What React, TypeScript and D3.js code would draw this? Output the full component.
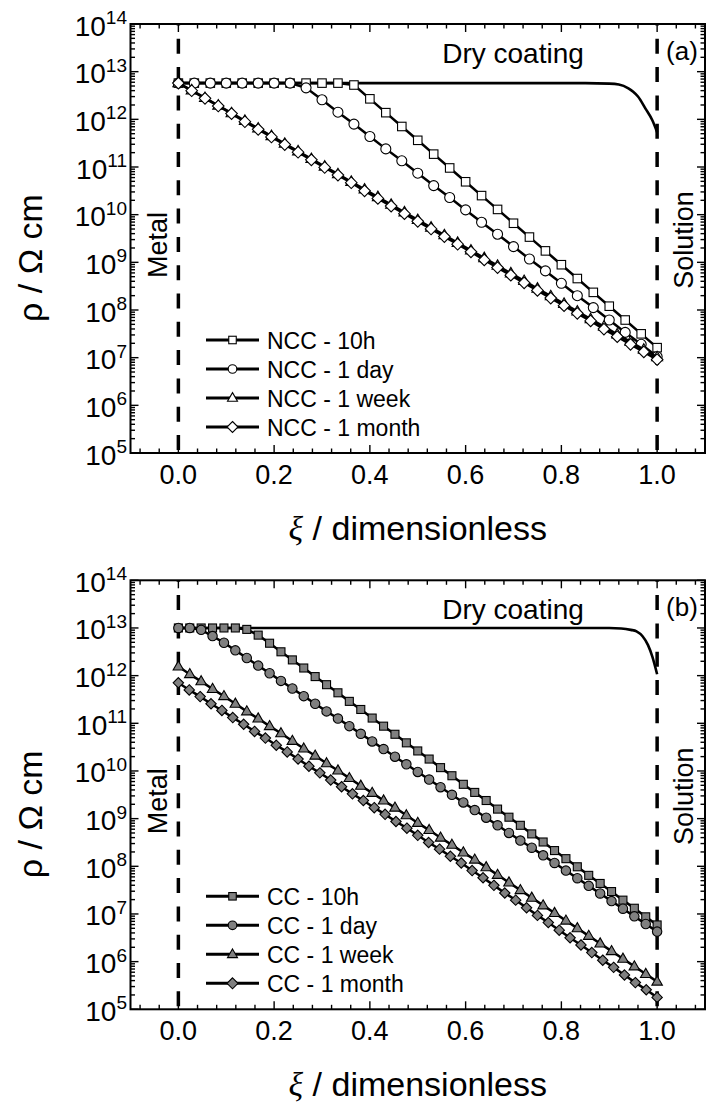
import React from 'react';
import * as d3 from 'd3';

const FONT = "'Liberation Sans', Arial, Helvetica, sans-serif";

// ---------- data (log10 of resistivity, Ω cm) ----------
const X30 = [0, 0.0333, 0.0667, 0.1, 0.1333, 0.1667, 0.2, 0.2333, 0.2667, 0.3, 0.3333, 0.3667, 0.4, 0.4333, 0.4667, 0.5, 0.5333, 0.5667, 0.6, 0.6333, 0.6667, 0.7, 0.7333, 0.7667, 0.8, 0.8333, 0.8667, 0.9, 0.9333, 0.9667, 1];
const X36 = [0, 0.0278, 0.0556, 0.0833, 0.1111, 0.1389, 0.1667, 0.1944, 0.2222, 0.25, 0.2778, 0.3056, 0.3333, 0.3611, 0.3889, 0.4167, 0.4444, 0.4722, 0.5, 0.5278, 0.5556, 0.5833, 0.6111, 0.6389, 0.6667, 0.6944, 0.7222, 0.75, 0.7778, 0.8056, 0.8333, 0.8611, 0.8889, 0.9167, 0.9444, 0.9722, 1];
const X42 = [0, 0.0238, 0.0476, 0.0714, 0.0952, 0.119, 0.1429, 0.1667, 0.1905, 0.2143, 0.2381, 0.2619, 0.2857, 0.3095, 0.3333, 0.3571, 0.381, 0.4048, 0.4286, 0.4524, 0.4762, 0.5, 0.5238, 0.5476, 0.5714, 0.5952, 0.619, 0.6429, 0.6667, 0.6905, 0.7143, 0.7381, 0.7619, 0.7857, 0.8095, 0.8333, 0.8571, 0.881, 0.9048, 0.9286, 0.9524, 0.9762, 1];
const X44 = [0, 0.0227, 0.0455, 0.0682, 0.0909, 0.1136, 0.1364, 0.1591, 0.1818, 0.2045, 0.2273, 0.25, 0.2727, 0.2955, 0.3182, 0.3409, 0.3636, 0.3864, 0.4091, 0.4318, 0.4545, 0.4773, 0.5, 0.5227, 0.5455, 0.5682, 0.5909, 0.6136, 0.6364, 0.6591, 0.6818, 0.7045, 0.7273, 0.75, 0.7727, 0.7955, 0.8182, 0.8409, 0.8636, 0.8864, 0.9091, 0.9318, 0.9545, 0.9773, 1];

// Panel (a): non-conductive coating
const DRY_A_X = [0, 0.85, 0.9, 0.92, 0.94, 0.95, 0.96, 0.976, 0.99, 1];
const DRY_A = [12.76, 12.76, 12.75, 12.73, 12.65, 12.58, 12.48, 12.22, 11.98, 11.73];
const NCC_10H = [12.76, 12.76, 12.76, 12.76, 12.76, 12.76, 12.76, 12.76, 12.76, 12.76, 12.76, 12.72, 12.43, 12.14, 11.85, 11.56, 11.27, 10.98, 10.69, 10.40, 10.11, 9.82, 9.53, 9.24, 8.95, 8.66, 8.37, 8.08, 7.79, 7.50, 7.21];
const NCC_1DAY = [12.76, 12.76, 12.76, 12.76, 12.76, 12.76, 12.76, 12.76, 12.66, 12.41, 12.15, 11.90, 11.64, 11.38, 11.13, 10.87, 10.61, 10.36, 10.10, 9.84, 9.59, 9.33, 9.07, 8.82, 8.56, 8.30, 8.05, 7.79, 7.53, 7.28, 7.02];
const NCC_1WEEK = [12.76, 12.61, 12.45, 12.29, 12.13, 11.97, 11.81, 11.65, 11.49, 11.33, 11.17, 11.01, 10.85, 10.69, 10.53, 10.37, 10.21, 10.05, 9.89, 9.73, 9.57, 9.41, 9.25, 9.09, 8.93, 8.77, 8.61, 8.45, 8.29, 8.13, 7.97, 7.81, 7.65, 7.49, 7.33, 7.17, 7.01];
const NCC_1MONTH = [12.76, 12.60, 12.44, 12.28, 12.12, 11.95, 11.79, 11.63, 11.47, 11.31, 11.15, 10.99, 10.83, 10.67, 10.50, 10.34, 10.18, 10.02, 9.86, 9.70, 9.54, 9.38, 9.22, 9.05, 8.89, 8.73, 8.57, 8.41, 8.25, 8.09, 7.93, 7.77, 7.60, 7.44, 7.28, 7.12, 6.96];

// Panel (b): conductive coating
const DRY_B_X = [0, 0.9, 0.925, 0.945, 0.957, 0.97, 0.981, 0.99, 1];
const DRY_B = [13.0, 13.0, 12.99, 12.96, 12.93, 12.82, 12.64, 12.4, 12.03];
const CC_10H = [13.0, 13.0, 13.0, 13.0, 13.0, 13.0, 12.97, 12.85, 12.68, 12.50, 12.33, 12.16, 11.98, 11.81, 11.64, 11.46, 11.29, 11.11, 10.94, 10.77, 10.59, 10.42, 10.25, 10.07, 9.90, 9.72, 9.55, 9.38, 9.20, 9.03, 8.86, 8.68, 8.51, 8.33, 8.16, 7.99, 7.81, 7.64, 7.47, 7.29, 7.12, 6.94, 6.77];
const CC_1DAY = [13.0, 13.0, 12.96, 12.83, 12.69, 12.53, 12.37, 12.21, 12.05, 11.89, 11.73, 11.57, 11.41, 11.25, 11.10, 10.94, 10.78, 10.62, 10.46, 10.30, 10.14, 9.98, 9.82, 9.66, 9.50, 9.34, 9.18, 9.02, 8.86, 8.70, 8.54, 8.39, 8.23, 8.07, 7.91, 7.75, 7.59, 7.43, 7.27, 7.11, 6.95, 6.79, 6.63];
const CC_1WEEK = [12.19, 12.03, 11.88, 11.72, 11.57, 11.41, 11.25, 11.10, 10.94, 10.79, 10.63, 10.47, 10.32, 10.16, 10.01, 9.85, 9.69, 9.54, 9.38, 9.23, 9.07, 8.91, 8.76, 8.60, 8.45, 8.29, 8.14, 7.98, 7.82, 7.66, 7.50, 7.34, 7.18, 7.02, 6.86, 6.70, 6.54, 6.38, 6.22, 6.06, 5.90, 5.74, 5.58];
const CC_1MONTH = [11.85, 11.70, 11.56, 11.41, 11.27, 11.12, 10.98, 10.83, 10.69, 10.54, 10.40, 10.25, 10.10, 9.96, 9.81, 9.67, 9.52, 9.38, 9.23, 9.09, 8.94, 8.80, 8.65, 8.50, 8.36, 8.21, 8.07, 7.91, 7.76, 7.60, 7.44, 7.29, 7.13, 6.97, 6.82, 6.66, 6.50, 6.35, 6.19, 6.03, 5.88, 5.72, 5.56, 5.41, 5.25];

const X_MAJOR = [0, 0.2, 0.4, 0.6, 0.8, 1.0];
const X_TICK_LABELS = ['0.0', '0.2', '0.4', '0.6', '0.8', '1.0'];
const Y_DECADES = [5, 6, 7, 8, 9, 10, 11, 12, 13, 14];

type Shape = 'square' | 'circle' | 'triangle' | 'diamond';
interface Series { label: string; x: number[]; y: number[]; shape: Shape; }

const SERIES_A: Series[] = [
  { label: 'NCC - 10h', x: X30, y: NCC_10H, shape: 'square' },
  { label: 'NCC - 1 day', x: X30, y: NCC_1DAY, shape: 'circle' },
  { label: 'NCC - 1 week', x: X36, y: NCC_1WEEK, shape: 'triangle' },
  { label: 'NCC - 1 month', x: X36, y: NCC_1MONTH, shape: 'diamond' },
];
const SERIES_B: Series[] = [
  { label: 'CC - 10h', x: X42, y: CC_10H, shape: 'square' },
  { label: 'CC - 1 day', x: X42, y: CC_1DAY, shape: 'circle' },
  { label: 'CC - 1 week', x: X42, y: CC_1WEEK, shape: 'triangle' },
  { label: 'CC - 1 month', x: X44, y: CC_1MONTH, shape: 'diamond' },
];

const SIZES_A: Record<Shape, number> = { square: 8.5, circle: 5, triangle: 11, diamond: 5.8 };
const SIZES_B: Record<Shape, number> = { square: 8, circle: 4.7, triangle: 10.5, diamond: 5.2 };
const SIZES_LEG: Record<Shape, number> = { square: 7.5, circle: 4.3, triangle: 10, diamond: 5.5 };

function Marker({ shape, cx, cy, s, fill }: { shape: Shape; cx: number; cy: number; s: number; fill: string }) {
  const common = { fill, stroke: '#000', strokeWidth: 1.1 };
  if (shape === 'square') return <rect x={cx - s / 2} y={cy - s / 2} width={s} height={s} {...common} />;
  if (shape === 'circle') return <circle cx={cx} cy={cy} r={s} {...common} />;
  if (shape === 'diamond') return <path d={`M${cx},${cy - s}L${cx + s},${cy}L${cx},${cy + s}L${cx - s},${cy}Z`} {...common} />;
  const h = s * 0.866;
  return <path d={`M${cx},${cy - h * 0.62}L${cx + s / 2},${cy + h * 0.38}L${cx - s / 2},${cy + h * 0.38}Z`} {...common} />;
}

interface PanelProps {
  top: number; bottom: number; series: Series[]; dryX: number[]; dryY: number[];
  fill: string; tag: string; sizes: Record<Shape, number>;
}

function Panel({ top, bottom, series, dryX, dryY, fill, tag, sizes }: PanelProps) {
  const left = 130.5, right = 705;
  const x = d3.scaleLinear().domain([-0.1, 1.1]).range([left, right]);
  const y = d3.scaleLog().domain([1e5, 1e14]).range([bottom, top]);
  const yl = (v: number) => y(Math.pow(10, v));
  const line = d3.line<[number, number]>().x(d => x(d[0])).y(d => yl(d[1]));
  const dryLine = d3.line<[number, number]>().x(d => x(d[0])).y(d => yl(d[1])).curve(d3.curveMonotoneX);

  const xMinor = d3.range(-2, 28).map(i => +(i * 0.04).toFixed(2)).filter(v => !X_MAJOR.some(m => Math.abs(m - v) < 1e-6));
  const yMinor: number[] = [];
  Y_DECADES.slice(0, -1).forEach(d => { for (let m = 2; m <= 9; m++) yMinor.push(m * Math.pow(10, d)); });
  const MAJ = 8, MIN = 4.5;
  const tickStyle = { stroke: '#000', strokeWidth: 1.4 };

  const legTop = top + 316;
  const legStep = 29;

  return (
    <g>
      {[0, 1].map(v => (
        <line key={'d' + v} x1={x(v)} x2={x(v)} y1={bottom - 3} y2={top} stroke="#000" strokeWidth={3.5} strokeDasharray="15 13.3" />
      ))}
      <path d={dryLine(dryX.map((v, i) => [v, dryY[i]] as [number, number])) || ''} fill="none" stroke="#000" strokeWidth={2.6} />
      {series.map(s => (
        <g key={s.label}>
          <path d={line(s.x.map((v, i) => [v, s.y[i]] as [number, number])) || ''} fill="none" stroke="#000" strokeWidth={2.5} />
          {s.x.map((v, i) => <Marker key={i} shape={s.shape} cx={x(v)} cy={yl(s.y[i])} s={sizes[s.shape]} fill={fill} />)}
        </g>
      ))}
      {X_MAJOR.map(v => (
        <g key={'xm' + v}>
          <line x1={x(v)} x2={x(v)} y1={bottom} y2={bottom - MAJ} {...tickStyle} />
          <line x1={x(v)} x2={x(v)} y1={top} y2={top + MAJ} {...tickStyle} />
        </g>
      ))}
      {xMinor.map(v => (
        <g key={'xn' + v}>
          <line x1={x(v)} x2={x(v)} y1={bottom} y2={bottom - MIN} {...tickStyle} />
          <line x1={x(v)} x2={x(v)} y1={top} y2={top + MIN} {...tickStyle} />
        </g>
      ))}
      {Y_DECADES.map(d => (
        <g key={'ym' + d}>
          <line x1={left} x2={left + MAJ} y1={yl(d)} y2={yl(d)} {...tickStyle} />
          <line x1={right} x2={right - MAJ} y1={yl(d)} y2={yl(d)} {...tickStyle} />
        </g>
      ))}
      {yMinor.map(v => (
        <g key={'yn' + v}>
          <line x1={left} x2={left + MIN} y1={y(v)} y2={y(v)} {...tickStyle} />
          <line x1={right} x2={right - MIN} y1={y(v)} y2={y(v)} {...tickStyle} />
        </g>
      ))}
      <rect x={left} y={top} width={right - left} height={bottom - top} fill="none" stroke="#000" strokeWidth={2} />
      {X_MAJOR.map((v, i) => (
        <text key={'xl' + v} x={x(v)} y={bottom + 31} textAnchor="middle" fontSize={27} fontFamily={FONT}>{X_TICK_LABELS[i]}</text>
      ))}
      {Y_DECADES.map(d => (
        <text key={'yl' + d} x={127} y={yl(d) + 11.5} textAnchor="end" fontFamily={FONT}>
          <tspan fontSize={28}>10</tspan>
          <tspan fontSize={19} dy={-11.5}>{d}</tspan>
        </text>
      ))}
      <text x={513} y={top + 39} textAnchor="middle" fontSize={28} fontFamily={FONT}>Dry coating</text>
      <text x={682} y={top + 36} textAnchor="middle" fontSize={26} fontFamily={FONT}>{tag}</text>
      <text transform={`translate(166.5,${top + 221}) rotate(-90)`} textAnchor="middle" fontSize={27} fontFamily={FONT}>Metal</text>
      <text transform={`translate(693,${top + 216}) rotate(-90)`} textAnchor="middle" fontSize={27} fontFamily={FONT}>Solution</text>
      <text transform={`translate(42,${top + 234}) rotate(-90)`} textAnchor="middle" fontSize={34} fontFamily={FONT}>ρ / Ω cm</text>
      <text x={(left + right) / 2} y={bottom + 87} textAnchor="middle" fontSize={34} fontFamily={FONT}>
        <tspan fontFamily="'Liberation Serif', 'Times New Roman', serif" fontStyle="italic">ξ</tspan>
        <tspan> / dimensionless</tspan>
      </text>
      {series.map((s, i) => {
        const ly = legTop + i * legStep;
        return (
          <g key={'lg' + s.label}>
            <line x1={206} x2={259} y1={ly} y2={ly} stroke="#000" strokeWidth={3} />
            <Marker shape={s.shape} cx={232.5} cy={ly} s={SIZES_LEG[s.shape]} fill={fill} />
            <text x={267} y={ly + 8.5} fontSize={23} fontFamily={FONT}>{s.label}</text>
          </g>
        );
      })}
    </g>
  );
}

export default function App() {
  return (
    <div style={{ position: 'absolute', left: 0, top: 0 }}>
      <svg width={709} height={1113} style={{ display: 'block', background: '#fff' }}>
        <rect x={0} y={0} width={709} height={1113} fill="#fff" />
        <Panel top={24} bottom={453} series={SERIES_A} dryX={DRY_A_X} dryY={DRY_A} fill="#fff" tag="(a)" sizes={SIZES_A} />
        <Panel top={580.3} bottom={1009.3} series={SERIES_B} dryX={DRY_B_X} dryY={DRY_B} fill="#808080" tag="(b)" sizes={SIZES_B} />
      </svg>
    </div>
  );
}
